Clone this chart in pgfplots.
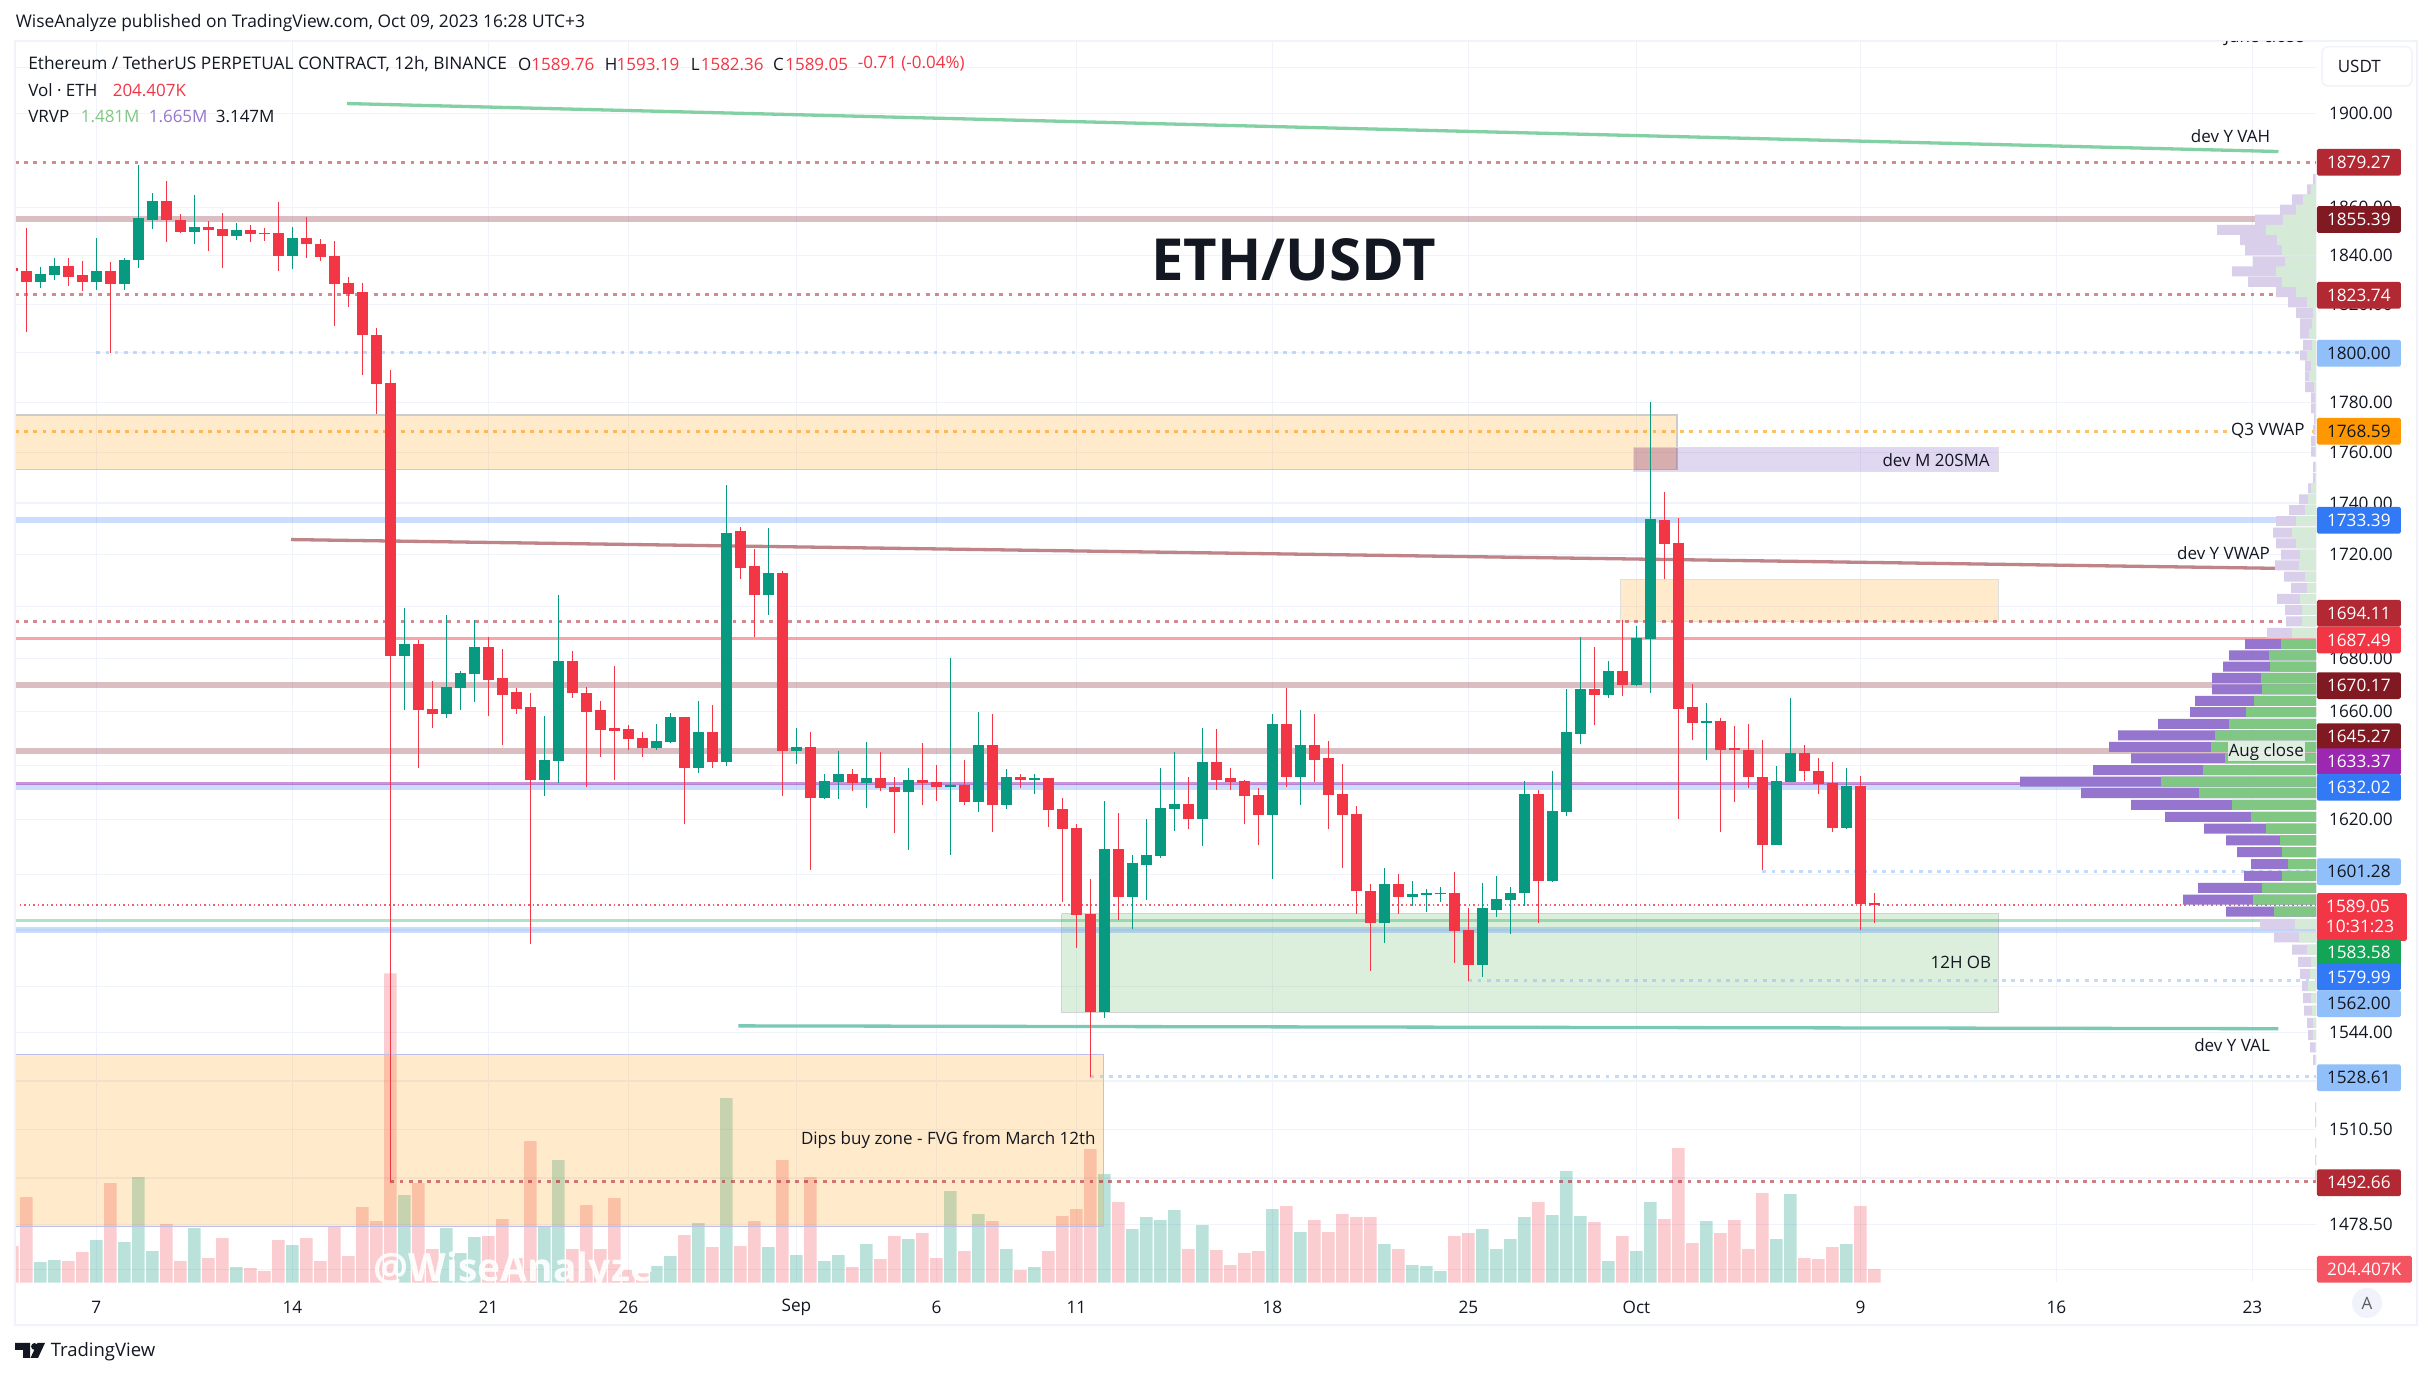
\documentclass[border=0pt]{standalone}
\usepackage{fontspec}
\setmainfont{Open Sans}
\usepackage{pgfplots}
\usepackage{pgfplotstable}
\pgfplotsset{compat=1.18}
\definecolor{cg}{HTML}{089981}
\definecolor{cr}{HTML}{F23645}
\definecolor{ink}{HTML}{131722}
\definecolor{gridc}{HTML}{F0F3FA}
\definecolor{tagred}{HTML}{B22833}
\definecolor{tagdark}{HTML}{801922}
\definecolor{tagblue}{HTML}{3179F5}
\definecolor{taglight}{HTML}{90BFF9}
\definecolor{tagpurple}{HTML}{9C27B0}
\definecolor{taggreen}{HTML}{13A456}
\definecolor{czone}{HTML}{FF9800}
\definecolor{cgzone}{HTML}{4CAF50}
\definecolor{cvzone}{HTML}{673AB7}
\definecolor{vg}{HTML}{81C784}
\definecolor{vp}{HTML}{9575CD}
\definecolor{vgl}{HTML}{D5EBD7}
\definecolor{vpl}{HTML}{DACFEA}
% red candles: x low bodybottom bodytop high
\pgfplotstableread{
x l b t h
-6 1833.4 1833.6 1834.7 1835.5
-5 1808.7 1829.3 1833.9 1851.4
-2 1827.6 1831.4 1835.6 1838.9
-1 1825.1 1829.3 1831.8 1837.8
1 1800.0 1828.1 1833.9 1837.2
5 1845.6 1854.7 1862.7 1871.5
6 1849.3 1850.1 1854.7 1857.6
8 1841.8 1850.6 1851.8 1854.3
9 1834.7 1848.1 1851.0 1858.0
11 1845.6 1848.9 1850.6 1853.0
12 1846.0 1849.0 1849.3 1851.4
13 1833.5 1839.7 1849.3 1862.2
15 1838.9 1844.7 1847.6 1856.0
16 1837.6 1839.3 1845.1 1846.8
17 1811.2 1828.1 1839.7 1846.0
18 1818.9 1824.3 1828.5 1831.0
19 1791.3 1807.1 1824.7 1828.9
20 1775.3 1787.3 1807.5 1810.0
21 1492.66 1680.8 1787.7 1792.9
23 1638.8 1660.4 1685.3 1686.8
24 1653.7 1658.9 1660.8 1671.7
28 1658.5 1672.1 1684.2 1688.0
29 1647.4 1666.4 1672.5 1683.8
30 1659.3 1661.1 1667.2 1668.7
31 1575.2 1634.4 1661.5 1666.8
34 1665.3 1666.8 1678.9 1683.0
35 1631.8 1660.0 1666.8 1669.1
36 1643.2 1653.2 1660.4 1663.8
37 1634.7 1652.9 1653.7 1677.0
38 1645.5 1649.6 1653.3 1654.8
39 1643.2 1646.2 1650.0 1652.5
42 1618.2 1639.1 1657.8 1657.8
44 1639.1 1641.0 1652.5 1662.2
46 1710.3 1714.9 1728.9 1730.5
47 1688.0 1704.1 1715.3 1721.8
49 1628.5 1645.1 1712.9 1713.3
51 1601.5 1628.1 1646.6 1652.2
54 1630.3 1633.3 1636.6 1638.5
56 1630.3 1631.4 1635.1 1644.8
57 1615.1 1630.0 1631.8 1635.5
59 1625.2 1633.3 1634.7 1648.1
60 1627.0 1631.8 1633.6 1639.9
62 1625.2 1626.6 1632.5 1642.1
64 1615.3 1625.2 1647.3 1658.9
66 1631.4 1634.4 1635.8 1636.6
68 1617.4 1623.3 1635.1 1635.1
69 1590.2 1616.4 1623.7 1628.1
70 1573.8 1585.5 1616.8 1618.5
71 1528.61 1551.0 1585.9 1598.2
73 1583.4 1592.0 1609.1 1622.2
78 1616.7 1620.0 1625.8 1635.5
80 1630.7 1634.7 1641.0 1653.3
81 1630.7 1633.6 1635.1 1639.1
82 1618.2 1628.5 1634.0 1634.7
83 1610.9 1621.5 1628.9 1631.4
85 1632.1 1635.5 1655.2 1668.7
87 1633.6 1642.1 1647.3 1659.3
88 1616.4 1628.9 1642.5 1648.8
89 1602.2 1621.5 1629.2 1640.2
90 1585.9 1593.9 1621.8 1625.1
91 1565.6 1582.6 1594.2 1596.4
93 1585.9 1592.0 1596.4 1600.0
97 1568.4 1579.8 1593.5 1601.1
98 1562.0 1567.7 1580.1 1587.7
103 1582.6 1597.8 1629.2 1631.0
107 1654.8 1666.4 1668.3 1684.2
109 1666.0 1669.8 1675.1 1694.5
112 1710.3 1724.0 1733.4 1744.2
113 1620.0 1661.1 1724.6 1734.0
114 1649.2 1655.5 1661.5 1670.2
116 1615.3 1645.8 1656.3 1657.4
117 1626.3 1645.5 1646.2 1654.4
118 1631.4 1635.5 1645.8 1655.1
119 1601.5 1610.9 1635.8 1649.2
122 1634.0 1637.7 1644.4 1647.4
123 1629.2 1632.9 1638.0 1642.8
124 1615.3 1617.1 1633.3 1641.0
126 1579.99 1589.5 1632.2 1635.9
127 1582.36 1589.05 1589.76 1593.19
}\redT
% green candles
\pgfplotstableread{
x l b t h
-4 1826.8 1829.3 1832.2 1835.1
-3 1829.7 1831.8 1835.6 1838.9
0 1825.6 1829.3 1833.9 1847.2
2 1825.6 1828.1 1838.5 1838.9
3 1834.7 1838.1 1855.6 1878.2
4 1851.0 1855.1 1862.7 1866.0
7 1845.1 1850.1 1851.8 1865.6
10 1846.4 1848.1 1850.6 1853.5
14 1834.3 1839.7 1847.6 1851.8
22 1660.4 1680.8 1685.3 1699.1
25 1657.4 1658.9 1669.1 1696.4
26 1660.4 1668.7 1674.3 1675.1
27 1663.4 1674.0 1684.2 1694.5
32 1628.8 1634.4 1641.7 1658.5
33 1633.3 1641.3 1678.9 1704.1
40 1645.5 1646.2 1648.8 1655.1
41 1648.1 1648.4 1657.8 1659.6
43 1637.3 1639.1 1652.5 1664.1
45 1639.5 1641.0 1728.5 1747.3
48 1696.4 1704.1 1712.9 1730.1
50 1640.2 1645.1 1646.6 1654.0
52 1627.4 1628.1 1634.0 1636.6
53 1627.7 1633.6 1636.6 1645.1
55 1624.0 1633.3 1635.1 1648.4
58 1608.7 1630.0 1634.7 1638.8
61 1606.9 1631.8 1632.5 1680.0
63 1622.9 1626.6 1647.3 1660.0
65 1623.7 1625.2 1635.8 1638.4
67 1629.2 1634.4 1635.1 1636.9
72 1548.8 1551.0 1609.1 1627.0
74 1580.5 1592.0 1604.0 1606.9
75 1590.6 1603.6 1606.9 1620.0
76 1606.1 1606.5 1624.0 1639.1
77 1616.0 1623.7 1625.8 1644.8
79 1610.2 1620.0 1641.0 1654.0
84 1598.6 1621.5 1655.2 1658.9
86 1625.2 1635.5 1647.3 1660.7
92 1575.5 1582.6 1596.4 1602.5
94 1588.8 1592.0 1592.8 1597.8
95 1586.6 1592.4 1593.1 1594.9
96 1589.9 1592.8 1593.5 1595.6
99 1563.2 1567.7 1587.7 1597.1
100 1584.8 1587.3 1591.0 1599.6
101 1578.7 1590.6 1593.5 1595.3
102 1588.8 1593.1 1629.2 1634.0
104 1597.5 1597.8 1623.0 1637.9
105 1621.1 1622.6 1652.2 1668.3
106 1647.7 1651.8 1668.3 1688.0
108 1665.3 1666.4 1675.1 1678.9
110 1669.5 1669.8 1687.9 1692.1
111 1666.8 1687.5 1733.6 1780.0
115 1641.9 1655.5 1656.3 1663.0
120 1610.9 1610.9 1634.0 1639.5
121 1633.6 1633.6 1644.4 1664.9
125 1616.7 1617.1 1632.2 1638.8
}\greenT
% volume in thousands
\pgfplotstableread{
x v
-6 550
-5 1285
-2 325
-1 460
1 1495
5 880
6 325
8 370
9 670
11 220
12 175
13 640
15 670
16 325
17 835
18 400
19 1135
20 925
21 4640
23 1495
24 505
28 700
29 955
30 370
31 2125
34 505
35 1165
36 505
37 1270
38 190
39 140
42 715
44 535
46 550
47 925
49 1840
51 1585
54 235
56 355
57 700
59 745
60 370
62 475
64 925
66 190
68 475
69 1000
70 1105
71 2005
73 1210
78 505
80 490
81 265
82 445
83 475
85 1150
87 940
88 760
89 1030
90 985
91 985
93 505
97 700
98 745
103 1210
107 910
109 700
112 955
113 2020
114 595
116 745
117 940
118 505
119 1345
122 370
123 355
124 535
126 1150
127 204.407
}\volR
\pgfplotstableread{
x v
-4 310
-3 340
0 640
2 610
3 1585
4 475
7 820
10 235
14 565
22 1315
25 820
26 445
27 685
32 850
33 1840
40 250
41 400
43 895
45 2770
48 535
50 415
52 325
53 415
55 580
58 655
61 1375
63 1030
65 505
67 235
72 1630
74 805
75 985
76 940
77 1090
79 865
84 1105
86 760
92 580
94 265
95 250
96 175
99 805
100 505
101 655
102 985
104 1015
105 1675
106 1000
108 325
110 475
111 1210
115 925
120 655
121 1330
125 580
}\volG
% visible-range volume profile: price, up part, total
\pgfplotstableread{
p g t
1685.5 35 71
1681.2 47 87
1676.9 46 93
1672.6 55 104
1668.3 54 104
1664.0 62 121
1659.7 70 126
1655.4 87 158
1651.1 101 198
1646.8 105 207
1642.5 91 185
1638.2 113 223
1633.9 155 296
1629.6 117 235
1625.3 84 185
1621.0 65 151
1616.7 50 112
1612.4 36 90
1608.1 34 79
1603.8 28 65
1599.5 34 72
1595.2 54 118
1590.9 63 133
1586.6 42 90
}\vrvpDark
\pgfplotstableread{
p g t
1872.0 1 3
1867.8 5 9
1863.5 13 24
1859.2 20 36
1855.0 33 61
1850.7 50 99
1846.4 39 76
1842.1 34 71
1837.8 31 63
1833.5 40 84
1829.2 34 68
1824.9 20 40
1820.6 9 28
1816.3 3 20
1812.0 4 16
1807.7 7 16
1803.4 4 13
1799.1 9 16
1794.8 5 11
1790.5 7 11
1786.2 2 11
1781.9 1 5
1777.6 1 5
1773.3 1 2
1769.0 1 3
1764.7 1 5
1760.4 1 5
1754.3 1 3
1750.0 1 3
1745.7 5 8
1741.4 8 17
1737.1 11 27
1732.8 20 40
1728.5 24 43
1724.2 20 40
1719.9 16 35
1715.6 17 41
1711.3 11 32
1707.0 9 25
1702.7 16 39
1698.4 14 31
1694.1 14 30
1689.8 24 49
1582.3 21 56
1577.4 17 42
1573.1 9 24
1568.8 5 18
1564.5 6 16
1560.2 8 14
1555.9 5 13
1551.6 4 12
1547.3 3 9
1543.0 3 8
1538.7 1 6
1534.4 1 3
1518.0 0.5 1
1513.0 0.5 1
1506.0 0.5 1
1500.0 0.5 1
1495.0 0.5 1
}\vrvpLight
% one reference pixel is 0.25pt in this file
\newcommand{\fs}[1]{\fontsize{\fpeval{#1*0.25}}{\fpeval{#1*0.25}}\selectfont}
\pgfplotsset{
 pane/.style={scale only axis,width=575.25pt,height=310.25pt,enlargelimits=false},
 dots/.style={line width=.75pt,dash pattern=on .925pt off 1.375pt},
 candle/.style={draw=none,forget plot},
}
\newcommand{\hl}[4]{\addplot[#1] coordinates {(#2,#4)(#3,#4)};}
\newcommand{\zone}[5]{\addplot[#1] coordinates {(#2,#4)(#3,#4)(#3,#5)(#2,#5)(#2,#4)};}
\newcommand{\pricetag}[4]{\node[fill=#1,text=#2,minimum width=21pt,minimum height=6.675pt,inner sep=0pt,rounded corners=.4pt,anchor=west,font=\fs{17.2}] at (2316,{1378-#4}) {#3};}
\newcommand{\lbl}[4][ink]{\node[anchor=#2,inner sep=0pt,text=#1,font=\fs{17}] at (#3) {#4};}
\newcommand{\candles}[2]{%
 \addplot[candle,error bars/.cd,y dir=both,y explicit,error mark=none,error bar style={draw=#2,line width=.3pt}]
   table[x=x,y=b,y error plus expr=\thisrow{h}-\thisrow{b},y error minus expr=\thisrow{b}-\thisrow{l}] {#1};
 \addplot[candle,error bars/.cd,y dir=plus,y explicit,error mark=none,error bar style={draw=#2,line width=2.75pt}]
   table[x=x,y=b,y error plus expr=\thisrow{t}-\thisrow{b}] {#1};
}
\begin{document}
\begin{tikzpicture}[x=.25pt,y=.25pt]
\path[use as bounding box,fill=white] (0,0) rectangle (2433,1378);
% grid and tick labels
\begin{axis}[pane,at={(3.75pt,23.825pt)},anchor=south west,xmin=-5.814,xmax=158.54,ymode=log,ymin=1459.2,ymax=1931.4,
  axis line style={draw=none},major tick length=0pt,minor tick length=0pt,
  grid=major,grid style={color=gridc,line width=.3pt},
  xtick={0,14,28,38,50,60,70,84,98,110,126,140,154},
  xticklabels={7,14,21,26,Sep,6,11,18,25,Oct,9,16,23},
  ytick={1920,1900,1860,1840,1820,1800,1780,1760,1740,1720,1700,1680,1660,1640,1620,1600,1580,1560,1544,1527,1510.5,1494,1478.5,1463.5},
  yticklabels={,1900.00,1860.00,1840.00,1820.00,,1780.00,1760.00,1740.00,1720.00,,1680.00,1660.00,,1620.00,,,,1544.00,,1510.50,,1478.50,},
  yticklabel pos=right,
  yticklabel style={font=\fs{17.2},text=ink,anchor=west,inner sep=0pt,xshift=3.1pt},
  xticklabel style={font=\fs{17.2},text=ink,anchor=center,inner sep=0pt,yshift=-6.25pt},
  ]
\addplot[draw=none,forget plot] coordinates {(0,1600)};
\end{axis}
% volume
\begin{axis}[pane,at={(3.75pt,23.825pt)},anchor=south west,xmin=-5.814,xmax=158.54,hide axis,ymin=0,ymax=18615,ybar,bar width=3.125pt,bar shift=0pt]
\addplot[draw=none,fill=cr,fill opacity=.25] table[x=x,y=v] {\volR};
\addplot[draw=none,fill=cg,fill opacity=.28] table[x=x,y=v] {\volG};
\end{axis}
% zones and levels
\begin{axis}[pane,at={(3.75pt,23.825pt)},anchor=south west,xmin=-5.814,xmax=158.54,ymode=log,ymin=1459.2,ymax=1931.4,hide axis]
\zone{fill=czone,fill opacity=.2,draw=gray!40,line width=.3pt}{-5.814}{112.9}{1775}{1753.2}
\zone{fill=cvzone,fill opacity=.2,draw=gray!25,line width=.25pt}{109.8}{135.85}{1762}{1752.6}
\zone{fill=red!60!black,fill opacity=.12,draw=none}{109.8}{112.9}{1762}{1753.2}
\zone{fill=czone,fill opacity=.2,draw=gray!25,line width=.25pt}{108.84}{135.85}{1710.1}{1694.11}
\zone{fill=cgzone,fill opacity=.2,draw=gray!35,line width=.25pt}{68.95}{135.85}{1585.9}{1551}
\zone{fill=czone,fill opacity=.2,draw=none}{-5.814}{71.95}{1536.3}{1477.8}
\addplot[color=black!35!blue!25!white,line width=.325pt] coordinates {(-5.814,1536.3)(71.95,1536.3)(71.95,1477.8)(-5.814,1477.8)};
% thick bands
\hl{color=tagdark,opacity=.28,line width=1.5pt}{-5.814}{158.54}{1855.39}
\hl{color=tagblue,opacity=.25,line width=1.5pt}{-5.814}{158.54}{1733.39}
\hl{color=tagdark,opacity=.28,line width=1.5pt}{-5.814}{158.54}{1670.17}
\hl{color=tagdark,opacity=.28,line width=1.5pt}{-5.814}{158.54}{1645.27}
\hl{color=tagblue,opacity=.25,line width=1.5pt}{-5.814}{158.54}{1632.02}
\hl{color=tagpurple,opacity=.5,line width=.75pt}{-5.814}{158.54}{1633.37}
\hl{color=cr,opacity=.45,line width=.75pt}{-5.814}{158.54}{1687.49}
\hl{color=taggreen,opacity=.32,line width=.75pt}{-5.814}{158.54}{1583.58}
\hl{color=tagblue,opacity=.25,line width=1.5pt}{-5.814}{158.54}{1579.99}
% dotted levels
\hl{dots,color=tagred,opacity=.55}{-5.814}{158.54}{1879.27}
\hl{dots,color=tagred,opacity=.55}{-5.814}{158.54}{1823.74}
\hl{dots,color=tagred,opacity=.55}{-5.814}{158.54}{1694.11}
\hl{dots,color=tagred,opacity=.6}{21}{158.54}{1492.66}
\hl{dots,color=taglight,opacity=.55}{0}{158.54}{1800}
\hl{dots,color=czone,opacity=.6}{-5.814}{152.4}{1768.59}
\hl{dots,color=czone,opacity=.6}{158.26}{158.54}{1768.59}
\hl{dots,color=taglight,opacity=.55}{119}{158.54}{1601.28}
\hl{dots,color=taglight,opacity=.55}{98}{158.54}{1562}
\hl{dots,color=taglight,opacity=.55}{71}{158.54}{1528.61}
\hl{color=cr,opacity=.8,line width=.375pt,dash pattern=on .375pt off .75pt}{-5.814}{158.54}{1589.05}
% trend lines
\addplot[line width=.825pt,color={rgb,255:red,132;green,208;blue,165}] coordinates {(17.9,1904.4)(155.86,1883.8)};
\addplot[line width=.825pt,color={rgb,255:red,190;green,132;blue,136}] coordinates {(13.9,1725.7)(155.86,1714.6)};
\addplot[line width=.825pt,color={rgb,255:red,122;green,201;blue,181}] coordinates {(45.85,1546.2)(155.86,1545.2)};
\end{axis}
% volume profile, measured from the price scale
\begin{axis}[pane,at={(3.75pt,23.825pt)},anchor=south west,xmin=0,xmax=2301,x dir=reverse,ymode=log,ymin=1459.2,ymax=1931.4,hide axis,xbar,bar width=2.5pt,bar shift=0pt]
\addplot[draw=none,fill=vpl] table[x=t,y=p] {\vrvpLight};
\addplot[draw=none,fill=vgl] table[x=g,y=p] {\vrvpLight};
\addplot[draw=none,fill=vp] table[x=t,y=p] {\vrvpDark};
\addplot[draw=none,fill=vg] table[x=g,y=p] {\vrvpDark};
\end{axis}
% candles
\begin{axis}[pane,at={(3.75pt,23.825pt)},anchor=south west,xmin=-5.814,xmax=158.54,ymode=log,ymin=1459.2,ymax=1931.4,hide axis]
\candles{\redT}{cr}
\candles{\greenT}{cg}
\end{axis}
% watermark
\begin{scope}
\clip (15,{1378-1282.7}) rectangle (2316,{1378-1200});
\node[anchor=base west,inner sep=0pt,text=white,opacity=.92,font=\fs{39}\bfseries] at (373,{1378-1281.7}) {@WiseAnalyze};
\end{scope}
% frame
\draw[color=gridc,line width=.5pt] (14.5,{1378-41}) rectangle (2417,{1378-1325});
% clipped note at the top
\begin{scope}
\clip (2200,{1378-42}) rectangle (2316,{1378-50});
\node[anchor=base east,inner sep=0pt,text=ink,font=\fs{17}] at (2305,{1378-43}) {June close};
\end{scope}
% annotations
\lbl{east}{2271,{1378-135.7}}{dev Y VAH}
\node[anchor=east,inner sep=0pt,fill=white,text=ink,font=\fs{17}] at (2305.4,{1378-431}) {Q3 VWAP};
\lbl{east}{1990.5,{1378-460}}{dev M 20SMA}
\lbl{east}{2270.6,{1378-553.3}}{dev Y VWAP}
\node[anchor=east,inner sep=.25pt,fill=white,fill opacity=.75,text opacity=1,text=ink,font=\fs{17}] at (2305.6,{1378-751.7}) {Aug close};
\lbl{east}{1992,{1378-962.7}}{12H OB}
\lbl{east}{2270.6,{1378-1045}}{dev Y VAL}
\lbl{east}{1096.4,{1378-1140}}{Dips buy zone - FVG from March 12th}
\node[anchor=center,inner sep=0pt,text=ink,font=\fs{58}\bfseries] at (1294,{1378-259.5}) {ETH/USDT};
% header
\node[anchor=west,inner sep=0pt,text=ink,font=\fs{17.4}] at (15,{1378-23}) {WiseAnalyze published on TradingView.com, Oct 09, 2023 16:28 UTC+3};
\node[anchor=west,inner sep=0pt,text=ink,font=\fs{17.3}] at (27.5,{1378-64}) {Ethereum / TetherUS PERPETUAL CONTRACT, 12h, BINANCE};
\lbl{west}{517.3,{1378-64}}{O}
\lbl[cr]{west}{530.6,{1378-64}}{1589.76}
\lbl{west}{604,{1378-64}}{H}
\lbl[cr]{west}{615.8,{1378-64}}{1593.19}
\lbl{west}{690,{1378-64}}{L}
\lbl[cr]{west}{700,{1378-64}}{1582.36}
\lbl{west}{772.4,{1378-64}}{C}
\lbl[cr]{west}{784.5,{1378-64}}{1589.05}
\lbl[cr]{west}{857,{1378-64}}{-0.71 (-0.04\%)}
\lbl{west}{27.5,{1378-90}}{Vol · ETH}
\lbl[cr]{west}{112,{1378-90}}{204.407K}
\lbl{west}{27.5,{1378-116}}{VRVP}
\lbl[vg]{west}{80,{1378-116}}{1.481M}
\lbl[vp]{west}{148,{1378-116}}{1.665M}
\lbl{west}{215,{1378-116}}{3.147M}
% price tags
\pricetag{tagred}{white}{1879.27}{162.3}
\pricetag{tagdark}{white}{1855.39}{219.5}
\pricetag{tagred}{white}{1823.74}{295.3}
\pricetag{taglight}{ink}{1800.00}{353.3}
\pricetag{czone}{ink}{1768.59}{431.3}
\pricetag{tagblue}{white}{1733.39}{520.3}
\pricetag{tagred}{white}{1694.11}{613.3}
\pricetag{cr}{white}{1687.49}{640}
\pricetag{tagdark}{white}{1670.17}{685.7}
\pricetag{tagdark}{white}{1645.27}{736.7}
\pricetag{tagpurple}{white}{1633.37}{761.7}
\pricetag{tagblue}{white}{1632.02}{787.3}
\pricetag{taglight}{ink}{1601.28}{871.7}
\node[fill=cr,minimum width=22.5pt,minimum height=11.925pt,inner sep=0pt,rounded corners=.4pt,anchor=north west] at (2316,{1378-892.3}) {};
\node[text=white,font=\fs{17.2},inner sep=0pt] at (2358,{1378-906}) {1589.05};
\node[text=white,font=\fs{17.2},inner sep=0pt] at (2360,{1378-926}) {10:31:23};
\pricetag{taggreen}{white}{1583.58}{952.7}
\pricetag{tagblue}{white}{1579.99}{977}
\pricetag{taglight}{ink}{1562.00}{1003.7}
\pricetag{taglight}{ink}{1528.61}{1077.7}
\pricetag{tagred}{white}{1492.66}{1182.7}
\node[fill=cr!85!white,text=white,minimum width=23.75pt,minimum height=6.675pt,inner sep=0pt,rounded corners=.4pt,anchor=west,font=\fs{17.2}] at (2316,{1378-1269.3}) {204.407K};
% controls
\draw[color=gridc,line width=.375pt,fill=white,rounded corners=1.5pt] (2322,{1378-46.7}) rectangle (2412,{1378-86});
\node[anchor=west,inner sep=0pt,text=ink,font=\fs{17}] at (2337,{1378-66}) {USDT};
\fill[color=gridc] (2367,{1378-1303}) circle (15);
\node[inner sep=0pt,text=ink!70,font=\fs{17}] at (2367,{1378-1303}) {A};
% logo
\fill[color=ink] (15,{1378-1343}) -- (30,{1378-1343}) -- (30,{1378-1358}) -- (23,{1378-1358}) -- (23,{1378-1350}) -- (15,{1378-1350}) -- cycle;
\fill[color=ink] (34.5,{1378-1346.5}) circle (3.4);
\fill[color=ink] (37.5,{1378-1343}) -- (45,{1378-1343}) -- (38,{1378-1358}) -- (30.5,{1378-1358}) -- cycle;
\node[anchor=west,inner sep=0pt,text=ink,font=\fs{18.5}] at (50,{1378-1352}) {TradingView};
\end{tikzpicture}
\end{document}
